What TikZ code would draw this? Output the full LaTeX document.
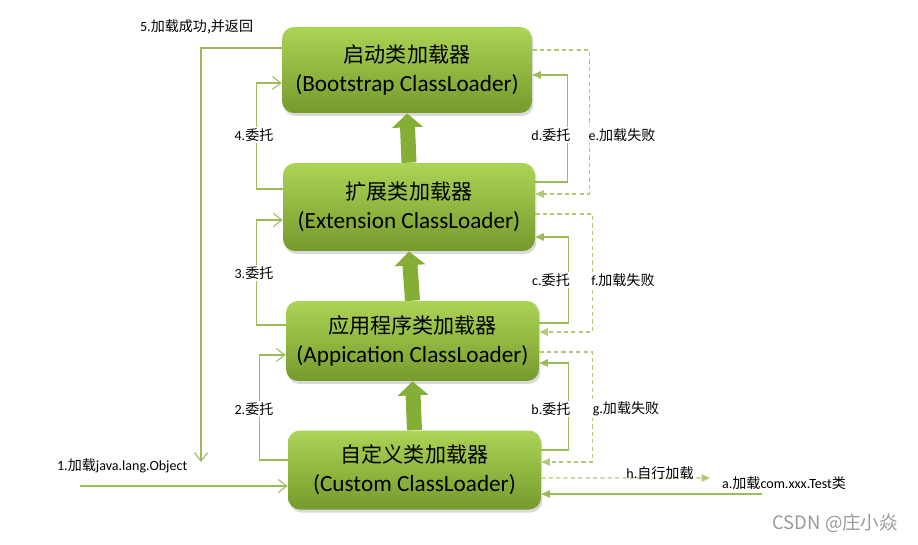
\documentclass[tikz,border=0pt]{standalone}
\usepackage{fontspec}
\setmainfont{Carlito}
\newfontfamily\cjkfont{Noto Sans CJK SC}
\newcommand{\zhtext}[1]{{\cjkfont #1}}
\newcommand{\enline}[1]{{\fontsize{13.2}{16.5}\selectfont #1}}
\usetikzlibrary{arrows.meta,shadows}

\definecolor{linegreen}{RGB}{155,187,89}
\definecolor{failgreen}{RGB}{176,202,118}
\definecolor{boxtop}{RGB}{172,212,86}
\definecolor{boxbottom}{RGB}{118,154,44}
\definecolor{pushgreen}{RGB}{132,174,54}

\begin{document}
\begin{tikzpicture}[x=0.02cm, y=-0.02cm,
        loader/.style = {rounded corners=0.24cm, top color=boxtop, bottom color=boxbottom,
            drop shadow={opacity=0.3, shadow xshift=0.03cm, shadow yshift=-0.06cm},
            align=center, inner sep=0pt, font={\fontsize{12}{16.5}\selectfont}},
        push/.style = {line width=0.3cm, pushgreen, -{Triangle[length=0.28cm, width=0.6cm]}},
        deleg/.style = {linegreen, line width=0.6pt, -{Straight Barb[length=0.17cm, width=0.26cm]}},
        fail/.style = {failgreen, line width=0.7pt, dash pattern=on 2.4pt off 1.8pt, -{Triangle[length=0.17cm, width=0.15cm]}},
        ask/.style = {linegreen, line width=0.6pt, -{Triangle[length=0.17cm, width=0.15cm]}},
        step label/.style = {fill=white, inner sep=1pt, font={\fontsize{8}{9.5}\selectfont}}
    ]
        \useasboundingbox (0,0) rectangle (918,544);

        % class loaders
        \node[loader, minimum width=5cm, minimum height=1.72cm] (boot) at (407,70)
            {\zhtext{启动类加载器}\\\enline{(Bootstrap ClassLoader)}};
        \node[loader, minimum width=5.04cm, minimum height=1.76cm] (ext) at (409,207)
            {\zhtext{扩展类加载器}\\\enline{(Extension ClassLoader)}};
        \node[loader, minimum width=5.06cm, minimum height=1.6cm] (app) at (412.5,341)
            {\zhtext{应用程序类加载器}\\\enline{(Appication ClassLoader)}};
        \node[loader, minimum width=5.06cm, minimum height=1.58cm] (cust) at (414.5,470)
            {\zhtext{自定义类加载器}\\\enline{(Custom ClassLoader)}};

        \draw[push] (ext.north) -- (boot.south);
        \draw[push] (app.north) -- (ext.south);
        \draw[push] (cust.north) -- (app.south);

        % left side
        \coordinate (obj) at (80,486);
        \coordinate (ret) at (201,462);
        \draw[deleg] (obj) -- (obj -| cust.west);
        \draw[deleg] ([yshift=0.2cm]cust.west) -- ++(-28,0) |- ([yshift=-0.28cm]app.west);
        \draw[deleg] ([yshift=0.32cm]app.west) -- ++(-29,0) |- ([yshift=-0.26cm]ext.west);
        \draw[deleg] ([yshift=0.36cm]ext.west) -- ++(-26,0) |- ([yshift=-0.26cm]boot.west);
        \draw[deleg] ([yshift=0.44cm]boot.west) -| (ret);

        \node[step label, fill=none, anchor=west] (l1) at (55,466) {1.\zhtext{加载}java.lang.Object};
        \node[step label] (l2) at (254,409) {2.\zhtext{委托}};
        \node[step label] (l3) at (254,273) {3.\zhtext{委托}};
        \node[step label] (l4) at (254,135) {4.\zhtext{委托}};
        \node[step label, anchor=west] (l5) at (138,27) {5.\zhtext{加载成功,并返回}};

        % right side
        \coordinate (test) at (762,494);
        \coordinate (self) at (710,478);
        \draw[ask] (test) -- (test -| cust.east);
        \draw[ask] ([yshift=0.4cm]cust.east) -- ++(27,0) |- ([yshift=-0.44cm]app.east);
        \draw[ask] ([yshift=0.36cm]app.east) -- ++(29,0) |- ([yshift=-0.6cm]ext.east);
        \draw[ask] ([yshift=0.5cm]ext.east) -- ++(32,0) |- ([yshift=-0.1cm]boot.east);
        \draw[fail] ([yshift=0.4cm]boot.east) -- ++(57,0) |- ([yshift=0.26cm]ext.east);
        \draw[fail] ([yshift=-0.14cm]ext.east) -- ++(57,0) |- ([yshift=0.18cm]app.east);
        \draw[fail] ([yshift=-0.22cm]app.east) -- ++(53,0) |- ([yshift=0.16cm]cust.east);
        \draw[fail] ([yshift=-0.16cm]cust.east) -- (self);

        \node[step label, fill=none, anchor=west] (la) at (720,483) {a.\zhtext{加载}com.xxx.Test\zhtext{类}};
        \node[step label] (lb) at (551,409) {b.\zhtext{委托}};
        \node[step label] (lc) at (551,280) {c.\zhtext{委托}};
        \node[step label] (ld) at (551,135) {d.\zhtext{委托}};
        \node[step label] (le) at (622,135) {e.\zhtext{加载失败}};
        \node[step label] (lf) at (623,280) {f.\zhtext{加载失败}};
        \node[step label] (lg) at (626,409) {g.\zhtext{加载失败}};
        \node[step label, fill=none] (lh) at (660,473) {h.\zhtext{自行加载}};

        \node[text=black!40, font={\cjkfont\fontsize{10.5}{12}\selectfont}, anchor=east] (mark) at (904,523) {CSDN @庄小焱};
    \end{tikzpicture}
\end{document}
